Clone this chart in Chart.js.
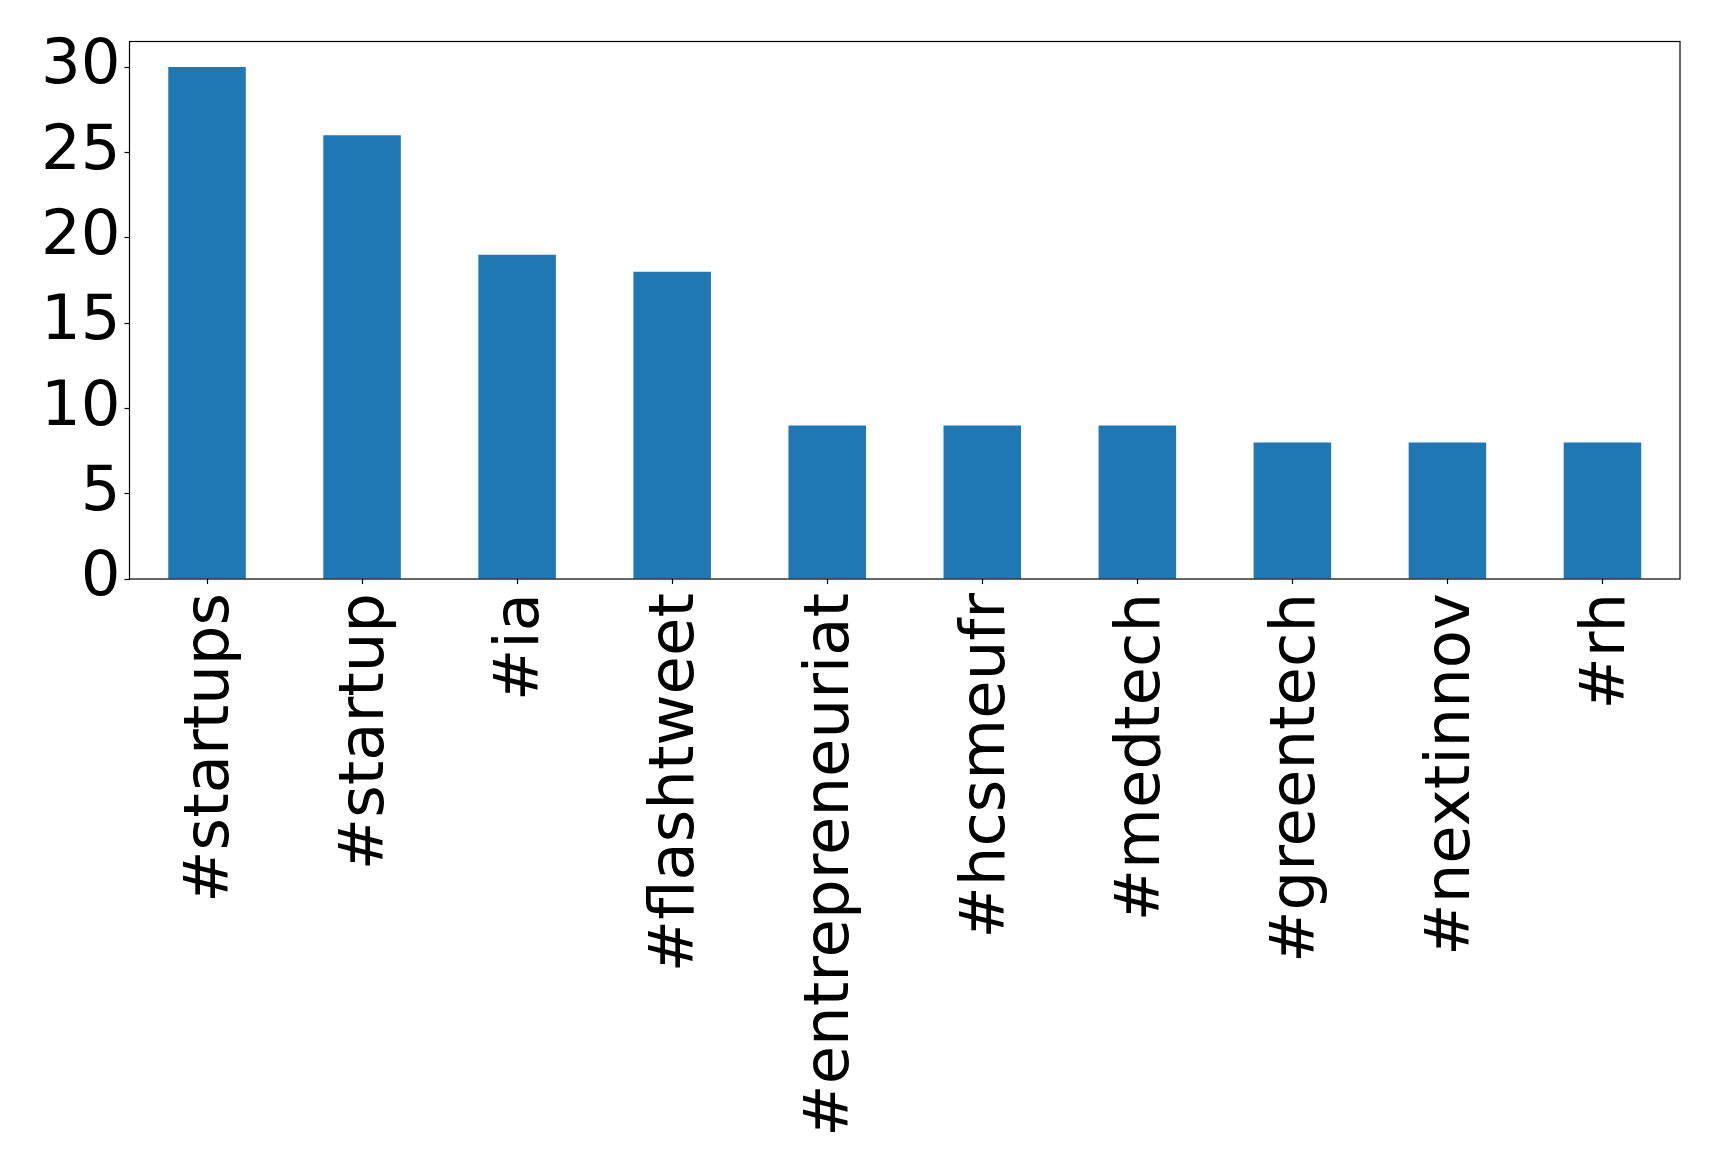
<!DOCTYPE html>
<html>
<head>
<meta charset="utf-8">
<title>Hashtags</title>
<script src="https://cdn.jsdelivr.net/npm/chart.js@4.4.1/dist/chart.umd.min.js"></script>
<style>
  html, body { margin: 0; padding: 0; background: #fff; }
  canvas { display: block; }
</style>
</head>
<body>
<canvas id="hashtag-chart" width="1719" height="1172"></canvas>
<script>
// hashtag counts
const hashtags = ['#startups', '#startup', '#ia', '#flashtweet', '#entrepreneuriat',
  '#hcsmeufr', '#medtech', '#greentech', '#nextinnov', '#rh'];
const counts = [30, 26, 19, 18, 9, 9, 9, 8, 8, 8];
const yTicks = [0, 5, 10, 15, 20, 25, 30];

const FONT = { family: 'DejaVu Sans', size: 62.5 };

// matplotlib-style box around the plot
const frame = {
  id: 'frame',
  afterDraw(chart) {
    const { ctx, chartArea: a } = chart;
    ctx.save();
    ctx.strokeStyle = '#000';
    ctx.lineWidth = 1.2;
    ctx.strokeRect(a.left, a.top, a.right - a.left, a.bottom - a.top);
    ctx.restore();
  }
};

const ctx = document.getElementById('hashtag-chart');

new Chart(ctx, {
  type: 'bar',
  data: {
    labels: hashtags,
    datasets: [{
      data: counts,
      backgroundColor: '#1f77b4',
      borderWidth: 0,
      categoryPercentage: 1,
      barPercentage: 0.5
    }]
  },
  options: {
    responsive: false,
    animation: false,
    devicePixelRatio: 1,
    layout: { padding: { top: 40, right: 39, left: 0, bottom: 0 } },
    plugins: {
      legend: { display: false },
      tooltip: { enabled: false }
    },
    scales: {
      x: {
        offset: true,
        border: { display: false },
        grid: {
          display: true,
          offset: false,
          drawOnChartArea: false,
          drawTicks: true,
          tickLength: 5,
          tickWidth: 1.2,
          color: '#000'
        },
        ticks: {
          color: '#000',
          font: FONT,
          minRotation: 90,
          maxRotation: 90,
          autoSkip: false,
          padding: 9,
          labelOffset: 5
        },
        afterFit: (scale) => { scale.height = 593; }
      },
      y: {
        min: 0,
        max: 31.5,
        border: { display: false },
        grid: {
          display: true,
          drawOnChartArea: false,
          drawTicks: true,
          tickLength: 5,
          tickWidth: 1.2,
          color: '#000'
        },
        ticks: {
          color: '#000',
          font: FONT,
          stepSize: 5,
          includeBounds: false,
          padding: 4
        },
        afterBuildTicks: (scale) => {
          scale.ticks = yTicks.map(v => ({ value: v }));
        },
        afterFit: (scale) => { scale.width = 129.5; }
      }
    }
  },
  plugins: [frame]
});
</script>
</body>
</html>
